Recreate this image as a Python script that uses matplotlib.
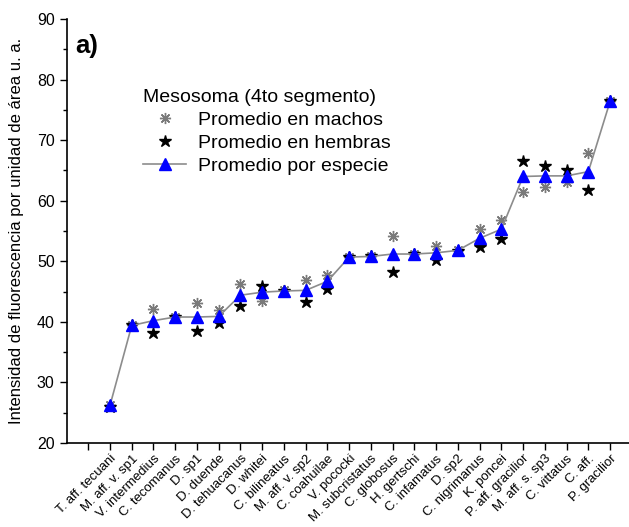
import matplotlib
matplotlib.use("Agg")
import matplotlib.pyplot as plt
from matplotlib.ticker import MultipleLocator, FixedLocator

plt.rcParams['font.family'] = ['Liberation Sans', 'DejaVu Sans']

species = ["T. aff. tecuani", "M. aff. v. sp1", "V. intermedius", "C. tecomanus",
           "D. sp1", "D. duende", "D. tehuacanus", "D. whitei", "C. bilineatus",
           "M. aff. v. sp2", "C. coahuilae", "V. pococki", "M. subcristatus",
           "C. globosus", "H. gertschi", "C. infamatus", "D. sp2", "C. nigrimanus",
           "K. poncei", "P. aff. gracilior", "M. aff. s. sp3", "C. vittatus",
           "C. aff.", "P. gracilior"]
machos = [26.3, 39.5, 42.1, 40.8, 43.1, 42.0, 46.2, 43.5, 45.2, 46.9, 47.7, 50.7,
          50.8, 54.2, 51.2, 52.6, 51.8, 55.3, 56.8, 61.4, 62.3, 63.1, 67.9, 76.4]
hembras = [26.0, 39.4, 38.2, 40.8, 38.5, 39.8, 42.6, 45.9, 45.1, 43.3, 45.5, 50.7,
           50.8, 48.2, 51.2, 50.2, 51.7, 52.3, 53.7, 66.5, 65.8, 65.0, 61.7, 76.5]
especie = [26.2, 39.4, 40.2, 40.8, 40.8, 40.9, 44.4, 44.9, 45.1, 45.2, 46.7, 50.7,
           50.8, 51.2, 51.2, 51.4, 51.8, 53.8, 55.3, 64.0, 64.1, 64.1, 64.8, 76.4]

x = list(range(1, len(species) + 1))

fig = plt.figure(figsize=(6.29, 5.27), dpi=100)
ax = fig.add_axes([66.5/629, 1-443/527, (629-66.5)/629, (443-19)/527])

asterisk = (8, 2, 0)
ax.plot(x, especie, color='#8c8c8c', lw=1.2, marker='^', ms=8.5,
        mfc='#0000ff', mec='#0000ff', zorder=2, label='Promedio por especie')
ax.plot(x, machos, ls='none', marker=asterisk, ms=8, color='#7a7a7a',
        mew=1.0, zorder=1, label='Promedio en machos')
ax.plot(x, hembras, ls='none', marker='*', ms=9, color='black',
        zorder=1, label='Promedio en hembras')

ax.set_xlim(-1, 24.87)
ax.set_ylim(20, 90)
ax.xaxis.set_major_locator(FixedLocator(list(range(0, 25))))
ax.set_xticklabels([""] + species, rotation=45, ha='right',
                   rotation_mode='anchor', fontsize=9.5)
ax.yaxis.set_major_locator(MultipleLocator(10))
ax.yaxis.set_minor_locator(MultipleLocator(5))
ax.tick_params(axis='both', which='major', direction='out', length=5, width=1,
               labelsize=11.5)
ax.tick_params(axis='x', labelsize=9.5, pad=2)
ax.tick_params(axis='y', which='minor', direction='out', length=3, width=1)
for s in ['top', 'right']:
    ax.spines[s].set_visible(False)
for s in ['left', 'bottom']:
    ax.spines[s].set_linewidth(1.2)

ax.set_ylabel("Intensidad de fluorescencia por unidad de área u. a.", fontsize=12)
ax.yaxis.set_label_coords(-0.075, 0.5)

ax.text(0.016, 0.965, "a)", transform=ax.transAxes, fontsize=18.5,
        fontweight='bold', va='top', ha='left')

h, l = ax.get_legend_handles_labels()
order = [1, 2, 0]
leg = ax.legend([h[i] for i in order], [l[i] for i in order],
                title="Mesosoma (4to segmento)", frameon=False,
                fontsize=14, title_fontsize=14, loc='upper left',
                bbox_to_anchor=(0.1125, 0.866), handlelength=2.2,
                handletextpad=0.6, labelspacing=0.27, borderpad=0.2)
leg._legend_box.align = 'left'

fig.savefig("out.png", dpi=100)
